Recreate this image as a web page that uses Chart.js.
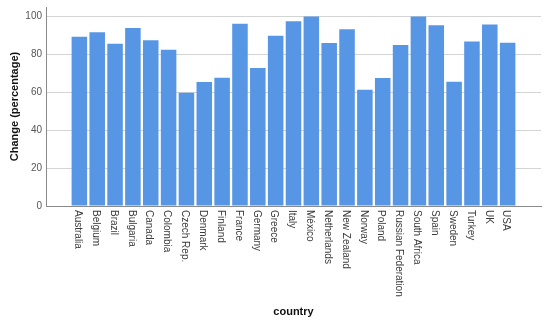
<!DOCTYPE html>
<html>
<head>
<meta charset="utf-8">
<script src="https://cdn.jsdelivr.net/npm/chart.js@4/dist/chart.umd.min.js"></script>
<style>
  html, body { margin: 0; padding: 0; background: #fff; }
  #wrap { width: 550px; height: 323px; position: relative; }
</style>
</head>
<body>
<div id="wrap"><canvas id="c" width="550" height="323"></canvas></div>
<script>
const countries = ["Australia","Belgium","Brazil","Bulgaria","Canada","Colombia","Czech Rep.","Denmark","Finland","France","Germany","Greece","Italy","México","Netherlands","New Zealand","Norway","Poland","Russian Federation","South Africa","Spain","Sweden","Turkey","UK","USA"];
const changePct = [89.3,91.7,85.6,93.9,87.4,82.5,59.8,65.4,67.7,96.1,72.8,89.8,97.5,100,86.0,93.2,61.4,67.5,84.9,100,95.4,65.6,86.8,95.8,86.1];
const yTicks = [0,20,40,60,80,100];
const xTitle = "country";
const yTitle = "Change (percentage)";

const FONT = "'Liberation Sans', Arial, sans-serif";

const rotatedLabels = {
  id: 'rotatedLabels',
  afterDraw(chart) {
    const s = chart.scales.x;
    const ctx = chart.ctx;
    ctx.save();
    ctx.font = "10px " + FONT;
    ctx.fillStyle = '#3a3a3a';
    ctx.textAlign = 'left';
    ctx.textBaseline = 'middle';
    s.ticks.forEach((t, i) => {
      const x = s.getPixelForTick(i) - 1.5;
      ctx.save();
      ctx.translate(x, s.top + 4);
      ctx.rotate(Math.PI / 2);
      ctx.fillText(t.label, 0, 0);
      ctx.restore();
    });
    ctx.restore();
  }
};

new Chart(document.getElementById('c'), {
  type: 'bar',
  data: {
    datasets: [{
      data: countries.map((c, i) => ({ x: i, y: changePct[i] })),
      backgroundColor: '#5796e4',
      borderWidth: 0,
      barPercentage: 0.87,
      categoryPercentage: 1
    }]
  },
  options: {
    responsive: false,
    animation: false,
    layout: { padding: { top: 7, right: 9, bottom: 0, left: 0 } },
    plugins: { legend: { display: false }, tooltip: { enabled: false } },
    scales: {
      x: {
        type: 'linear',
        offset: false,
        min: -1.87,
        max: 25.87,
        afterBuildTicks: s => { s.ticks = countries.map((c, i) => ({ value: i })); },
        afterFit: s => { s.height = 117; s.paddingLeft = 0; s.paddingRight = 0; },
        grid: { display: false, offset: false },
        border: { display: true, color: '#8a8a8a', width: 1 },
        ticks: {
          autoSkip: false,
          minRotation: 90,
          maxRotation: 90,
          color: 'rgba(0,0,0,0)',
          font: { size: 10, family: FONT },
          callback: v => countries[v]
        },
        title: {
          display: true,
          text: xTitle,
          color: '#111',
          font: { size: 11, weight: 'bold', family: FONT },
          padding: { top: 0, bottom: 4 }
        }
      },
      y: {
        min: 0,
        max: 105,
        afterBuildTicks: s => { s.ticks = yTicks.map(v => ({ value: v })); },
        afterFit: s => { s.width = 46; s.paddingTop = 0; s.paddingBottom = 0; },
        grid: { color: '#d4d4d4', drawTicks: false, lineWidth: 1 },
        border: { display: true, color: '#8a8a8a', width: 1 },
        ticks: {
          padding: 4,
          color: '#555',
          font: { size: 10, family: FONT }
        },
        title: {
          display: true,
          text: yTitle,
          color: '#111',
          font: { size: 11, weight: 'bold', family: FONT },
          padding: { top: 8, bottom: 0 }
        }
      }
    }
  },
  plugins: [rotatedLabels]
});
</script>
</body>
</html>
